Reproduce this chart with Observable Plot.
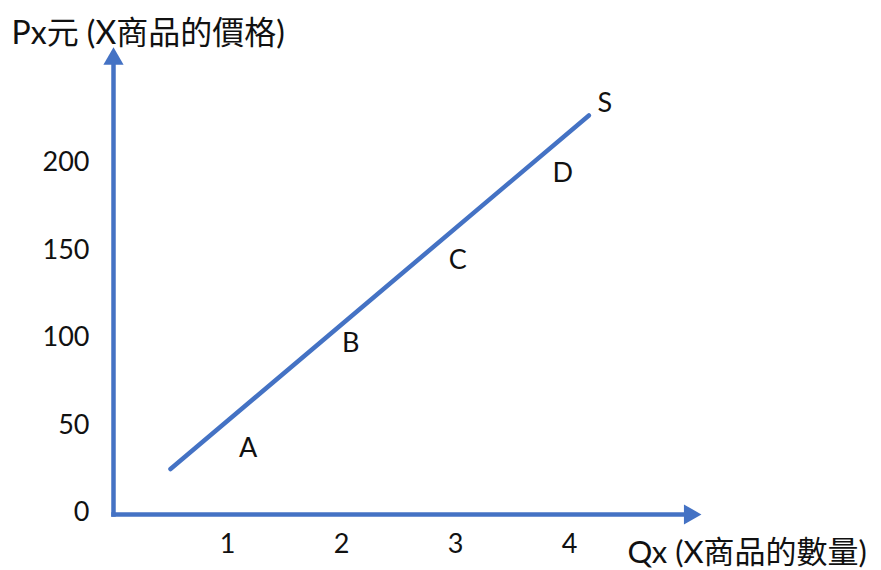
<!DOCTYPE html>
<html>
<head>
<meta charset="utf-8">
<script src="https://cdn.jsdelivr.net/npm/d3@7"></script>
<script src="https://cdn.jsdelivr.net/npm/@observablehq/plot@0.6"></script>
<style>
  html, body { margin: 0; padding: 0; background: #fff; }
  #chart svg { display: block; font-family: "Lato", "Noto Sans CJK TC", sans-serif; }
</style>
</head>
<body>
<div id="chart"></div>
<script>
// Data
const priceTicks = [0, 50, 100, 150, 200];
const qtyTicks = [1, 2, 3, 4];
const supplyQ = [0.5, 4.17];
const supplyP = [26, 228];
const pointNames = ["A", "B", "C", "D"];
const pointQ = [1.18, 2.08, 3.02, 3.94];
const pointP = [38, 98, 145, 195];
const curveName = "S";
const curveLabelQ = 4.31;
const curveLabelP = 235;
const yAxisTop = 258;   // price value where vertical arrow shaft ends
const xAxisEnd = 5.02;  // quantity value where horizontal arrow shaft ends
const yTitle = "Px元 (X商品的價格)";
const xTitle = "Qx (X商品的數量)";

const blue = "#4472C4";
const supply = supplyQ.map((q, i) => ({q, p: supplyP[i]}));
const points = pointNames.map((n, i) => ({n, q: pointQ[i], p: pointP[i]}));

const chart = Plot.plot({
  width: 881,
  height: 570,
  margin: 0,
  x: {type: "linear", domain: [0, 4], range: [113, 569], axis: null},
  y: {type: "linear", domain: [0, 200], range: [514, 164], axis: null},
  marks: [
    // axes shafts
    Plot.link([{x1: 0, y1: 0, x2: 0, y2: yAxisTop}], {x1: "x1", y1: "y1", x2: "x2", y2: "y2", stroke: blue, strokeWidth: 4.5, strokeLinecap: "square"}),
    Plot.link([{x1: 0, y1: 0, x2: xAxisEnd, y2: 0}], {x1: "x1", y1: "y1", x2: "x2", y2: "y2", stroke: blue, strokeWidth: 4.5, strokeLinecap: "square"}),
    // arrowheads
    Plot.dot([{x: 0, y: yAxisTop}], {x: "x", y: "y", symbol: "triangle", r: 7.5, fill: blue, stroke: "none", dy: -4}),
    Plot.dot([{x: xAxisEnd, y: 0}], {x: "x", y: "y", symbol: "triangle", r: 7.5, fill: blue, stroke: "none", rotate: 90, dx: 4}),
    // supply line
    Plot.line(supply, {x: "q", y: "p", stroke: blue, strokeWidth: 4.5}),
    // tick labels
    Plot.text(priceTicks, {x: 0, y: d => d, text: d => String(d), textAnchor: "end", dx: -24, dy: -2, fontSize: 27, fill: "#111"}),
    Plot.text(qtyTicks, {x: d => d, y: 0, text: d => String(d), dy: 30, fontSize: 27, fill: "#111"}),
    // point labels
    Plot.text(points, {x: "q", y: "p", text: "n", fontSize: 27, fill: "#111"}),
    Plot.text([curveName], {x: curveLabelQ, y: curveLabelP, text: d => d, fontSize: 27, fill: "#111"}),
    // axis titles
    Plot.text([yTitle], {frameAnchor: "top-left", lineAnchor: "middle", text: d => d, textAnchor: "start", dx: 11, dy: 33, fontSize: 32, fill: "#111"}),
    Plot.text([xTitle], {frameAnchor: "top-left", lineAnchor: "middle", text: d => d, textAnchor: "start", dx: 627, dy: 553, fontSize: 31, fill: "#111"})
  ]
});
document.getElementById("chart").appendChild(chart);
</script>
</body>
</html>
